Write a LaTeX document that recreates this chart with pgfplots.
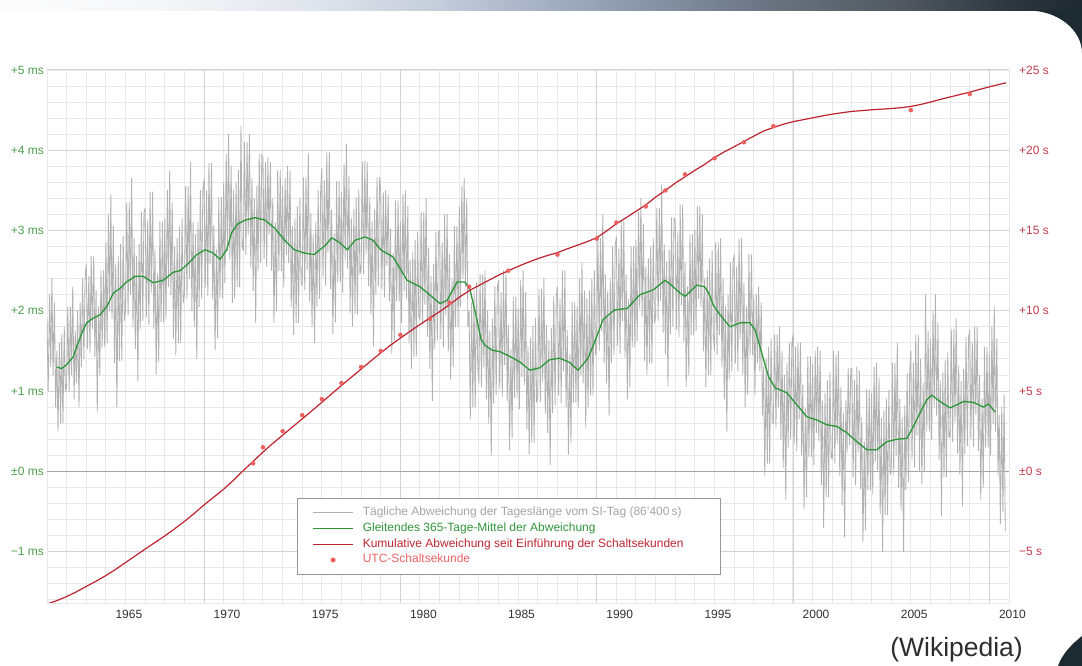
\documentclass[border=0pt]{standalone}
\usepackage{fontspec}
\setmainfont{Liberation Sans}
\usepackage{pgfplots}
\pgfplotsset{compat=1.18}
\definecolor{graycol}{RGB}{178,178,178}
\definecolor{greencol}{RGB}{44,150,56}
\definecolor{redcol}{RGB}{190,36,48}
\definecolor{dotcol}{RGB}{238,96,96}
\definecolor{gridmin}{RGB}{232,232,232}
\definecolor{gridmaj}{RGB}{210,210,210}
\definecolor{zeroline}{RGB}{165,165,165}
\definecolor{greenlab}{RGB}{80,160,80}
\definecolor{redlab}{RGB}{195,60,75}
\definecolor{xlab}{RGB}{50,50,50}
\definecolor{legborder}{RGB}{150,150,150}
\definecolor{darkbg}{RGB}{30,42,50}
\definecolor{wikicol}{RGB}{45,45,45}
\definecolor{graytext}{RGB}{165,165,165}
\definecolor{greentext}{RGB}{50,150,60}
\definecolor{redtext}{RGB}{190,40,50}
\definecolor{dottext}{RGB}{236,100,100}
\definecolor{bnA}{RGB}{252,252,252}
\definecolor{bnB}{RGB}{246,247,249}
\definecolor{bnC}{RGB}{226,230,237}
\definecolor{bnD}{RGB}{198,206,220}
\definecolor{bnE}{RGB}{150,162,182}
\definecolor{bnF}{RGB}{108,118,132}
\definecolor{bnG}{RGB}{82,90,96}
\definecolor{bnH}{RGB}{46,56,63}
\definecolor{bnI}{RGB}{30,40,48}
\pgfdeclarehorizontalshading{banner}{100bp}{color(0bp)=(bnA); color(25bp)=(bnA); color(32bp)=(bnB); color(39bp)=(bnC); color(45bp)=(bnD); color(52.5bp)=(bnE); color(60bp)=(bnF); color(66.5bp)=(bnG); color(71.5bp)=(bnH); color(75bp)=(bnI); color(100bp)=(bnI)}
\begin{document}
\begin{tikzpicture}
\useasboundingbox (0pt,0pt) rectangle (1082pt,666pt);
\fill[white] (0pt,0pt) rectangle (1082pt,666pt);
\shade[shading=banner] (0pt,655pt) rectangle (1082pt,666pt);
\fill[darkbg] (1028pt,655.5pt) .. controls (1058pt,655.5pt) and (1082pt,636pt) .. (1082pt,613pt) -- (1082pt,656pt) -- cycle;
\fill[darkbg] (1082pt,30pt) .. controls (1072pt,22pt) and (1062pt,12pt) .. (1058pt,0pt) -- (1082pt,0pt) -- cycle;
\node[anchor=base east, text=wikicol, font=\fontsize{26.5}{30}\selectfont, inner sep=0pt] at (1023pt,9.5pt) {(Wikipedia)};

\begin{axis}[
  at={(47pt,63pt)}, anchor=south west,
  scale only axis, width=962pt, height=533pt,
  xmin=1962, xmax=2011, ymin=-1.64, ymax=5,
  axis line style={draw=gridmin, line width=0.9pt},
  major tick length=0pt, minor tick length=0pt,
  tick style={draw=none},
  xtick={1965,1970,1975,1980,1985,1990,1995,2000,2005,2010},
  xticklabels={1965,1970,1975,1980,1985,1990,1995,2000,2005,2010},
  xticklabel style={font=\fontsize{12}{12}\selectfont, text=xlab, anchor=center, inner sep=0pt, xshift=23pt, yshift=-11.3pt},
  minor xtick={1963,1964,...,2010},
  xmajorgrids=false, xminorgrids=true,
  extra x ticks={1970,1980,1990,2000,2010},
  extra x tick labels={,,,,},
  extra x tick style={grid=major},
  ytick={-1,0,1,2,3,4,5},
  yticklabels={−1 ms,±0 ms,+1 ms,+2 ms,+3 ms,+4 ms,+5 ms},
  yticklabel style={font=\fontsize{12}{12}\selectfont, text=greenlab, anchor=east, inner sep=0pt, xshift=-3pt},
  minor ytick={-1.6,-1.4,-1.2,-0.8,-0.6,-0.4,-0.2,0.2,0.4,0.6,0.8,1.2,1.4,1.6,1.8,2.2,2.4,2.6,2.8,3.2,3.4,3.6,3.8,4.2,4.4,4.6,4.8},
  ymajorgrids=true, yminorgrids=true,
  extra y ticks={0}, extra y tick labels={{}},
  extra y tick style={grid=major, major grid style={draw=zeroline, line width=1.3pt}},
  major grid style={draw=gridmaj, line width=1pt},
  minor grid style={draw=gridmin, line width=1pt},
]
\addplot[graycol, line width=0.85pt, line join=round, forget plot] coordinates {
(1962.00,1.9)(1962.06,1.0)(1962.13,2.2)(1962.19,1.3)(1962.25,2.4)(1962.31,1.2)(1962.38,2.1)(1962.44,0.8)(1962.50,1.5)(1962.56,0.5)(1962.63,1.6)(1962.69,0.6)(1962.75,1.7)(1962.81,0.6)(1962.88,1.8)(1962.94,1.0)
(1963.00,1.05)(1963.06,2.05)(1963.13,1.0)(1963.19,2.05)(1963.25,1.2)(1963.31,2.3)(1963.38,0.9)(1963.44,1.75)(1963.50,1.1)(1963.56,2.0)(1963.63,0.8)(1963.69,2.1)(1963.75,1.3)(1963.81,2.4)(1963.88,1.4)(1963.94,2.4)
(1964.00,2.58)(1964.06,1.53)(1964.13,2.43)(1964.19,1.48)(1964.25,2.68)(1964.31,1.78)(1964.38,2.68)(1964.44,1.43)(1964.50,2.25)(1964.56,0.75)(1964.63,2.05)(1964.69,1.2)(1964.75,2.5)(1964.81,1.55)(1964.88,2.5)(1964.94,1.55)
(1965.00,2.85)(1965.06,1.6)(1965.13,3.2)(1965.19,2.0)(1965.25,3.45)(1965.31,1.9)(1965.38,3.05)(1965.44,1.35)(1965.50,2.58)(1965.56,0.8)(1965.63,2.68)(1965.69,1.38)(1965.75,2.83)(1965.81,1.38)(1965.88,2.93)(1965.94,1.88)
(1966.00,2.0)(1966.06,3.35)(1966.13,1.95)(1966.19,3.35)(1966.25,2.2)(1966.31,3.65)(1966.38,1.8)(1966.44,2.9)(1966.50,1.53)(1966.56,2.68)(1966.63,1.13)(1966.69,2.83)(1966.75,1.78)(1966.81,3.23)(1966.88,1.88)(1966.94,3.23)
(1967.00,3.28)(1967.06,1.93)(1967.13,3.13)(1967.19,1.83)(1967.25,3.48)(1967.31,2.23)(1967.38,3.48)(1967.44,1.78)(1967.50,2.76)(1967.56,1.21)(1967.63,2.46)(1967.69,1.36)(1967.75,3.11)(1967.81,1.86)(1967.88,3.11)(1967.94,1.86)
(1968.00,3.15)(1968.06,1.9)(1968.13,3.5)(1968.19,2.3)(1968.25,3.75)(1968.31,2.2)(1968.38,3.35)(1968.44,1.65)(1968.50,2.8)(1968.56,1.45)(1968.63,2.9)(1968.69,1.6)(1968.75,3.05)(1968.81,1.6)(1968.88,3.15)(1968.94,2.1)
(1969.00,2.2)(1969.06,3.55)(1969.13,2.15)(1969.19,3.55)(1969.25,2.4)(1969.31,3.85)(1969.38,2.0)(1969.44,3.1)(1969.50,1.8)(1969.56,2.95)(1969.63,1.4)(1969.69,3.1)(1969.75,2.05)(1969.81,3.5)(1969.88,2.15)(1969.94,3.5)
(1970.00,3.64)(1970.06,2.29)(1970.13,3.49)(1970.19,2.19)(1970.25,3.84)(1970.31,2.59)(1970.38,3.84)(1970.44,2.14)(1970.50,3.06)(1970.56,1.51)(1970.63,2.76)(1970.69,1.66)(1970.75,3.41)(1970.81,2.16)(1970.88,3.41)(1970.94,2.16)
(1971.00,3.6)(1971.06,2.35)(1971.13,3.95)(1971.19,2.75)(1971.25,4.2)(1971.31,2.65)(1971.38,3.8)(1971.44,2.1)(1971.50,3.5)(1971.56,2.15)(1971.63,3.6)(1971.69,2.3)(1971.75,3.75)(1971.81,2.3)(1971.88,4.3)(1971.94,2.8)
(1972.00,2.75)(1972.06,4.1)(1972.13,2.7)(1972.19,4.1)(1972.25,2.95)(1972.31,4.2)(1972.38,2.55)(1972.44,3.65)(1972.50,2.25)(1972.56,3.4)(1972.63,1.85)(1972.69,3.55)(1972.75,2.5)(1972.81,3.95)(1972.88,2.6)(1972.94,3.95)
(1973.00,3.9)(1973.06,2.65)(1973.13,3.85)(1973.19,2.55)(1973.25,3.9)(1973.31,2.95)(1973.38,3.85)(1973.44,2.5)(1973.50,3.4)(1973.56,1.85)(1973.63,3.1)(1973.69,2.0)(1973.75,3.75)(1973.81,2.5)(1973.88,3.75)(1973.94,2.5)
(1974.00,3.55)(1974.06,2.3)(1974.13,3.65)(1974.19,2.7)(1974.25,3.8)(1974.31,2.6)(1974.38,3.75)(1974.44,2.05)(1974.50,3.05)(1974.56,1.7)(1974.63,3.15)(1974.69,1.85)(1974.75,3.3)(1974.81,1.85)(1974.88,3.4)(1974.94,2.35)
(1975.00,2.31)(1975.06,3.66)(1975.13,2.26)(1975.19,3.66)(1975.25,2.51)(1975.31,3.96)(1975.38,2.11)(1975.44,3.21)(1975.50,1.8)(1975.56,2.95)(1975.63,1.6)(1975.69,3.1)(1975.75,2.05)(1975.81,3.5)(1975.88,2.15)(1975.94,3.5)
(1976.00,3.77)(1976.06,2.42)(1976.13,3.62)(1976.19,2.32)(1976.25,3.97)(1976.31,2.72)(1976.38,3.97)(1976.44,2.27)(1976.50,3.26)(1976.56,1.71)(1976.63,2.96)(1976.69,1.86)(1976.75,3.61)(1976.81,2.36)(1976.88,3.61)(1976.94,2.36)
(1977.00,3.48)(1977.06,2.23)(1977.13,3.83)(1977.19,2.63)(1977.25,4.08)(1977.31,2.53)(1977.38,3.68)(1977.44,1.98)(1977.50,3.16)(1977.56,1.81)(1977.63,3.26)(1977.69,1.96)(1977.75,3.41)(1977.81,1.96)(1977.88,3.51)(1977.94,2.46)
(1978.00,2.51)(1978.06,3.86)(1978.13,2.46)(1978.19,3.86)(1978.25,2.71)(1978.31,3.85)(1978.38,2.31)(1978.44,3.41)(1978.50,1.96)(1978.56,3.11)(1978.63,1.56)(1978.69,3.26)(1978.75,2.21)(1978.81,3.66)(1978.88,2.31)(1978.94,3.66)
(1979.00,3.5)(1979.06,2.27)(1979.13,3.47)(1979.19,2.17)(1979.25,3.5)(1979.31,2.57)(1979.38,3.45)(1979.44,2.12)(1979.50,3.02)(1979.56,1.47)(1979.63,2.72)(1979.69,1.62)(1979.75,3.37)(1979.81,2.12)(1979.88,3.37)(1979.94,2.12)
(1980.00,3.1)(1980.06,1.85)(1980.13,3.45)(1980.19,2.25)(1980.25,3.5)(1980.31,2.15)(1980.38,3.3)(1980.44,1.6)(1980.50,2.63)(1980.56,1.28)(1980.63,2.73)(1980.69,1.43)(1980.75,2.88)(1980.81,1.43)(1980.88,2.98)(1980.94,1.93)
(1981.00,1.88)(1981.06,3.23)(1981.13,1.83)(1981.19,3.23)(1981.25,2.08)(1981.31,3.4)(1981.38,1.68)(1981.44,2.78)(1981.50,1.28)(1981.56,2.43)(1981.63,0.88)(1981.69,2.58)(1981.75,1.53)(1981.81,2.98)(1981.88,1.63)(1981.94,2.98)
(1982.00,3.0)(1982.06,1.65)(1982.13,2.85)(1982.19,1.55)(1982.25,3.2)(1982.31,1.95)(1982.38,3.2)(1982.44,1.5)(1982.50,2.7)(1982.56,1.15)(1982.63,2.4)(1982.69,1.3)(1982.75,3.05)(1982.81,1.8)(1982.88,3.05)(1982.94,1.8)
(1983.00,3.3)(1983.06,2.05)(1983.13,3.55)(1983.19,2.4)(1983.25,3.65)(1983.31,2.3)(1983.38,3.4)(1983.44,1.8)(1983.50,2.0)(1983.56,0.65)(1983.63,2.1)(1983.69,0.8)(1983.75,2.25)(1983.81,0.8)(1983.88,2.35)(1983.94,1.3)
(1984.00,1.1)(1984.06,2.45)(1984.13,1.05)(1984.19,2.45)(1984.25,1.3)(1984.31,2.5)(1984.38,0.9)(1984.44,2.0)(1984.50,0.6)(1984.56,1.75)(1984.63,0.2)(1984.69,1.9)(1984.75,0.85)(1984.81,2.3)(1984.88,0.95)(1984.94,2.3)
(1985.00,2.38)(1985.06,1.03)(1985.13,2.23)(1985.19,0.93)(1985.25,2.5)(1985.31,1.33)(1985.38,2.5)(1985.44,0.88)(1985.50,1.82)(1985.56,0.27)(1985.63,1.52)(1985.69,0.42)(1985.75,2.17)(1985.81,0.92)(1985.88,2.17)(1985.94,0.92)
(1986.00,2.03)(1986.06,0.78)(1986.13,2.38)(1986.19,1.18)(1986.25,2.5)(1986.31,1.08)(1986.38,2.23)(1986.44,0.53)(1986.50,1.56)(1986.56,0.21)(1986.63,1.66)(1986.69,0.36)(1986.75,1.81)(1986.81,0.36)(1986.88,1.91)(1986.94,0.86)
(1987.00,0.92)(1987.06,2.27)(1987.13,0.87)(1987.19,2.27)(1987.25,1.12)(1987.31,2.4)(1987.38,0.72)(1987.44,1.82)(1987.50,0.48)(1987.56,1.63)(1987.63,0.08)(1987.69,1.78)(1987.75,0.73)(1987.81,2.18)(1987.88,0.83)(1987.94,2.18)
(1988.00,2.3)(1988.06,0.95)(1988.13,2.15)(1988.19,0.85)(1988.25,2.5)(1988.31,1.25)(1988.38,2.5)(1988.44,0.8)(1988.50,1.76)(1988.56,0.21)(1988.63,1.46)(1988.69,0.36)(1988.75,2.11)(1988.81,0.86)(1988.88,2.11)(1988.94,0.86)
(1989.00,2.05)(1989.06,0.8)(1989.13,2.4)(1989.19,1.2)(1989.25,2.6)(1989.31,1.1)(1989.38,2.25)(1989.44,0.55)(1989.50,2.15)(1989.56,0.8)(1989.63,2.25)(1989.69,0.95)(1989.75,2.4)(1989.81,0.95)(1989.88,2.5)(1989.94,1.45)
(1990.00,1.55)(1990.06,2.9)(1990.13,1.5)(1990.19,2.9)(1990.25,1.75)(1990.31,3.2)(1990.38,1.35)(1990.44,2.45)(1990.50,1.1)(1990.56,2.25)(1990.63,0.7)(1990.69,2.4)(1990.75,1.35)(1990.81,2.8)(1990.88,1.45)(1990.94,2.8)
(1991.00,2.92)(1991.06,1.57)(1991.13,2.77)(1991.19,1.47)(1991.25,3.12)(1991.31,1.87)(1991.38,3.12)(1991.44,1.42)(1991.50,2.45)(1991.56,0.9)(1991.63,2.15)(1991.69,1.05)(1991.75,2.8)(1991.81,1.55)(1991.88,2.8)(1991.94,1.55)
(1992.00,2.88)(1992.06,1.63)(1992.13,3.23)(1992.19,2.03)(1992.25,3.4)(1992.31,1.93)(1992.38,3.08)(1992.44,1.38)(1992.50,2.55)(1992.56,1.2)(1992.63,2.65)(1992.69,1.35)(1992.75,2.8)(1992.81,1.35)(1992.88,2.9)(1992.94,1.85)
(1993.00,1.93)(1993.06,3.28)(1993.13,1.88)(1993.19,3.28)(1993.25,2.13)(1993.31,3.58)(1993.38,1.73)(1993.44,2.83)(1993.50,1.46)(1993.56,2.61)(1993.63,1.06)(1993.69,2.76)(1993.75,1.71)(1993.81,3.16)(1993.88,1.81)(1993.94,3.16)
(1994.00,3.12)(1994.06,1.77)(1994.13,2.97)(1994.19,1.67)(1994.25,3.32)(1994.31,2.07)(1994.38,3.32)(1994.44,1.62)(1994.50,2.6)(1994.56,1.05)(1994.63,2.3)(1994.69,1.2)(1994.75,2.95)(1994.81,1.7)(1994.88,2.95)(1994.94,1.7)
(1995.00,3.0)(1995.06,1.75)(1995.13,3.3)(1995.19,2.15)(1995.25,3.3)(1995.31,2.05)(1995.38,3.2)(1995.44,1.5)(1995.50,2.4)(1995.56,1.05)(1995.63,2.5)(1995.69,1.2)(1995.75,2.65)(1995.81,1.2)(1995.88,2.75)(1995.94,1.7)
(1996.00,1.5)(1996.06,2.85)(1996.13,1.45)(1996.19,2.85)(1996.25,1.7)(1996.31,2.9)(1996.38,1.3)(1996.44,2.4)(1996.50,0.9)(1996.56,2.05)(1996.63,0.5)(1996.69,2.2)(1996.75,1.15)(1996.81,2.6)(1996.88,1.25)(1996.94,2.6)
(1997.00,2.7)(1997.06,1.35)(1997.13,2.55)(1997.19,1.25)(1997.25,2.9)(1997.31,1.65)(1997.38,2.9)(1997.44,1.2)(1997.50,2.35)(1997.56,0.8)(1997.63,2.05)(1997.69,0.95)(1997.75,2.7)(1997.81,1.45)(1997.88,2.7)(1997.94,1.45)
(1998.00,2.2)(1998.06,0.95)(1998.13,2.2)(1998.19,1.35)(1998.25,2.3)(1998.31,1.25)(1998.38,2.1)(1998.44,0.7)(1998.50,1.3)(1998.56,-0.05)(1998.63,1.4)(1998.69,0.1)(1998.75,1.55)(1998.81,0.1)(1998.88,1.65)(1998.94,0.6)
(1999.00,0.6)(1999.06,1.7)(1999.13,0.55)(1999.19,1.7)(1999.25,0.8)(1999.31,1.8)(1999.38,0.4)(1999.44,1.5)(1999.50,0.05)(1999.56,1.2)(1999.63,-0.35)(1999.69,1.35)(1999.75,0.3)(1999.81,1.6)(1999.88,0.4)(1999.94,1.6)
(2000.00,1.7)(2000.06,0.35)(2000.13,1.55)(2000.19,0.25)(2000.25,1.6)(2000.31,0.65)(2000.38,1.6)(2000.44,0.2)(2000.50,1.08)(2000.56,-0.47)(2000.63,0.78)(2000.69,-0.32)(2000.75,1.43)(2000.81,0.18)(2000.88,1.43)(2000.94,0.18)
(2001.00,1.33)(2001.06,0.08)(2001.13,1.5)(2001.19,0.48)(2001.25,1.55)(2001.31,0.38)(2001.38,1.5)(2001.44,-0.17)(2001.50,0.88)(2001.56,-0.7)(2001.63,0.98)(2001.69,-0.32)(2001.75,1.13)(2001.81,-0.32)(2001.88,1.23)(2001.94,0.18)
(2002.00,0.15)(2002.06,1.5)(2002.13,0.1)(2002.19,1.45)(2002.25,0.35)(2002.31,1.5)(2002.38,-0.05)(2002.44,1.05)(2002.50,-0.42)(2002.56,0.73)(2002.63,-0.82)(2002.69,0.88)(2002.75,0.23)(2002.81,1.28)(2002.88,0.33)(2002.94,1.28)
(2003.00,1.28)(2003.06,-0.07)(2003.13,1.13)(2003.19,-0.17)(2003.25,1.3)(2003.31,0.23)(2003.38,1.25)(2003.44,-0.22)(2003.50,0.67)(2003.56,-0.88)(2003.63,0.37)(2003.69,-0.73)(2003.75,1.02)(2003.81,-0.23)(2003.88,1.02)(2003.94,-0.23)
(2004.00,0.97)(2004.06,-0.28)(2004.13,1.3)(2004.19,0.12)(2004.25,1.35)(2004.31,0.02)(2004.38,1.17)(2004.44,-0.53)(2004.50,0.66)(2004.56,-1.0)(2004.63,0.76)(2004.69,-0.54)(2004.75,0.91)(2004.81,-0.54)(2004.88,1.01)(2004.94,-0.04)
(2005.00,0.0)(2005.06,1.35)(2005.13,-0.05)(2005.19,1.35)(2005.25,0.2)(2005.31,1.6)(2005.38,-0.2)(2005.44,0.9)(2005.50,-0.48)(2005.56,0.67)(2005.63,-1.0)(2005.69,0.82)(2005.75,-0.23)(2005.81,1.22)(2005.88,-0.13)(2005.94,1.22)
(2006.00,1.5)(2006.06,0.15)(2006.13,1.35)(2006.19,0.05)(2006.25,1.7)(2006.31,0.45)(2006.38,1.7)(2006.44,0.0)(2006.50,1.4)(2006.56,-0.15)(2006.63,1.1)(2006.69,0.0)(2006.75,2.2)(2006.81,0.5)(2006.88,1.75)(2006.94,0.5)
(2007.00,1.65)(2007.06,0.4)(2007.13,2.0)(2007.19,0.8)(2007.25,2.2)(2007.31,0.7)(2007.38,1.85)(2007.44,0.15)(2007.50,1.13)(2007.56,-0.55)(2007.63,1.23)(2007.69,-0.07)(2007.75,1.38)(2007.81,-0.07)(2007.88,1.48)(2007.94,0.43)
(2008.00,0.42)(2008.06,1.77)(2008.13,0.37)(2008.19,1.77)(2008.25,0.62)(2008.31,1.9)(2008.38,0.22)(2008.44,1.32)(2008.50,-0.03)(2008.56,1.12)(2008.63,-0.43)(2008.69,1.27)(2008.75,0.22)(2008.81,1.67)(2008.88,0.32)(2008.94,1.67)
(2009.00,1.76)(2009.06,0.41)(2009.13,1.61)(2009.19,0.31)(2009.25,1.8)(2009.31,0.71)(2009.38,1.8)(2009.44,0.26)(2009.50,1.2)(2009.56,-0.35)(2009.63,0.9)(2009.69,-0.2)(2009.75,1.55)(2009.81,0.3)(2009.88,1.55)(2009.94,0.3)
(2010.00,1.45)(2010.06,0.2)(2010.13,1.8)(2010.19,0.6)(2010.25,2.05)(2010.31,0.5)(2010.38,1.65)(2010.44,-0.05)(2010.50,0.7)(2010.56,-0.65)(2010.63,0.8)(2010.69,-0.5)(2010.75,0.95)(2010.81,-0.75)
};
\addplot[greencol, line width=1.3pt, line join=round, forget plot] coordinates {
(1962.49,1.30)(1962.75,1.28)(1963.0,1.33)(1963.34,1.43)(1963.51,1.55)(1963.77,1.72)(1964.02,1.85)(1964.36,1.91)(1964.7,1.95)(1965.04,2.05)(1965.38,2.22)(1965.72,2.28)(1966.06,2.36)(1966.48,2.43)(1966.9,2.43)(1967.41,2.35)(1967.92,2.38)(1968.43,2.48)(1968.78,2.50)(1969.2,2.59)(1969.63,2.70)(1970.05,2.76)(1970.47,2.72)(1970.81,2.64)(1971.15,2.76)(1971.4,2.97)(1971.7,3.08)(1972.09,3.13)(1972.6,3.16)(1973.1,3.13)(1973.6,3.03)(1974.1,2.88)(1974.6,2.76)(1975.1,2.72)(1975.6,2.70)(1976.2,2.82)(1976.5,2.91)(1976.9,2.85)(1977.3,2.76)(1977.7,2.88)(1978.2,2.92)(1978.6,2.88)(1979.0,2.76)(1979.63,2.67)(1980.34,2.38)(1981.0,2.30)(1982.02,2.09)(1982.38,2.13)(1982.89,2.36)(1983.29,2.36)(1983.55,2.26)(1983.9,1.89)(1984.1,1.65)(1984.31,1.57)(1984.67,1.51)(1985.08,1.49)(1985.59,1.43)(1986.1,1.36)(1986.6,1.26)(1987.1,1.29)(1987.6,1.39)(1988.1,1.41)(1988.6,1.36)(1989.05,1.26)(1989.56,1.41)(1989.97,1.66)(1990.32,1.89)(1990.9,2.01)(1991.55,2.03)(1992.2,2.20)(1992.87,2.26)(1993.48,2.38)(1993.8,2.32)(1994.25,2.22)(1994.5,2.18)(1995.1,2.32)(1995.5,2.30)(1995.7,2.22)(1995.94,2.07)(1996.28,1.95)(1996.79,1.80)(1997.3,1.85)(1997.81,1.85)(1998.07,1.76)(1998.41,1.47)(1998.75,1.18)(1999.09,1.04)(1999.68,0.98)(2000.19,0.83)(2000.7,0.68)(2001.21,0.64)(2001.72,0.58)(2002.23,0.56)(2002.74,0.48)(2003.25,0.37)(2003.76,0.27)(2004.27,0.27)(2004.78,0.37)(2005.29,0.40)(2005.8,0.41)(2006.13,0.56)(2006.47,0.73)(2006.81,0.89)(2007.07,0.95)(2007.49,0.87)(2008.0,0.79)(2008.68,0.87)(2009.19,0.86)(2009.7,0.80)(2009.95,0.84)(2010.29,0.74)
};
\end{axis}

\begin{axis}[
  at={(47pt,63pt)}, anchor=south west,
  scale only axis, width=962pt, height=533pt,
  xmin=1962, xmax=2011, ymin=-8.2, ymax=25,
  hide x axis,
  axis y line*=right,
  axis line style={draw=none},
  major tick length=0pt, minor tick length=0pt, tick style={draw=none},
  ytick={-5,0,5,10,15,20,25},
  yticklabels={−5 s,±0 s,+5 s,+10 s,+15 s,+20 s,+25 s},
  yticklabel style={font=\fontsize{12}{12}\selectfont, text=redlab, anchor=west, inner sep=0pt, xshift=10pt},
  legend style={at={(0.2599,0.197)}, anchor=north west, draw=legborder, line width=0.9pt, fill=white, inner xsep=15pt, inner ysep=6.6pt, row sep=0pt, column sep=9pt, font=\fontsize{12}{13}\selectfont, nodes={inner sep=0pt, text height=10.7pt, text depth=5pt}},
  legend cell align=left,
  legend image code/.code={\draw[mark repeat=2,mark phase=2,#1] plot coordinates {(0pt,0pt) (20pt,0pt) (40pt,0pt)};},
]
\addlegendimage{graycol, line width=1pt}
\addlegendentry{\makebox[343pt][l]{\textcolor{graytext}{Tägliche Abweichung der Tageslänge vom SI-Tag (86'400\,s)}}}
\addlegendimage{greencol, line width=1.3pt}
\addlegendentry{\makebox[343pt][l]{\textcolor{greentext}{Gleitendes 365-Tage-Mittel der Abweichung}}}
\addplot[redcol, line width=1.2pt, line join=round] coordinates {
(1962,-8.27)(1962.5,-8.05)(1963,-7.8)(1963.5,-7.5)(1964,-7.17)(1964.5,-6.84)(1965,-6.49)(1965.5,-6.1)(1966,-5.68)(1966.5,-5.26)(1967,-4.84)(1967.5,-4.43)(1968,-4.02)(1968.5,-3.58)(1969,-3.12)(1969.5,-2.62)(1970,-2.09)(1970.5,-1.6)(1971,-1.11)(1971.5,-0.55)(1972,0.05)(1972.5,0.62)(1973,1.2)(1973.5,1.74)(1974,2.25)(1974.5,2.76)(1975,3.27)(1975.5,3.78)(1976,4.3)(1976.5,4.83)(1977,5.35)(1977.5,5.86)(1978,6.37)(1978.5,6.88)(1979,7.38)(1979.5,7.86)(1980,8.3)(1980.5,8.73)(1981,9.15)(1981.5,9.55)(1982,9.95)(1982.5,10.38)(1983,10.85)(1983.5,11.25)(1984,11.58)(1984.5,11.9)(1985,12.22)(1985.5,12.5)(1986,12.77)(1986.5,13.02)(1987,13.25)(1987.5,13.45)(1988,13.62)(1988.5,13.86)(1989,14.08)(1989.5,14.3)(1990,14.55)(1990.5,14.97)(1991,15.42)(1991.5,15.8)(1992,16.2)(1992.5,16.6)(1993,17.08)(1993.5,17.5)(1994,17.95)(1994.5,18.35)(1995,18.75)(1995.5,19.12)(1996,19.55)(1996.5,19.9)(1997,20.22)(1997.5,20.55)(1998,20.88)(1998.5,21.2)(1999,21.42)(1999.5,21.62)(2000,21.78)(2000.5,21.9)(2001,22.02)(2001.5,22.14)(2002,22.25)(2002.5,22.34)(2003,22.42)(2003.5,22.47)(2004,22.52)(2004.5,22.56)(2005,22.6)(2005.5,22.65)(2006,22.73)(2006.5,22.85)(2007,23.0)(2007.5,23.17)(2008,23.32)(2008.5,23.47)(2009,23.62)(2009.5,23.79)(2010,23.95)(2010.5,24.1)(2010.85,24.2)
};
\addlegendentry{\makebox[343pt][l]{\textcolor{redtext}{Kumulative Abweichung seit Einführung der Schaltsekunden}}}
\addplot[only marks, mark=*, mark size=2pt, color=dotcol] coordinates {
(1972.5,0.5)(1973.0,1.5)(1974.0,2.5)(1975.0,3.5)(1976.0,4.5)(1977.0,5.5)(1978.0,6.5)(1979.0,7.5)(1980.0,8.5)(1981.5,9.5)(1982.5,10.5)(1983.5,11.5)(1985.5,12.5)(1988.0,13.5)(1990.0,14.5)(1991.0,15.5)(1992.5,16.5)(1993.5,17.5)(1994.5,18.5)(1996.0,19.5)(1997.5,20.5)(1999.0,21.5)(2006.0,22.5)(2009.0,23.5)
};
\addlegendentry{\makebox[343pt][l]{\textcolor{dottext}{UTC-Schaltsekunde}}}
\end{axis}
\end{tikzpicture}
\end{document}
